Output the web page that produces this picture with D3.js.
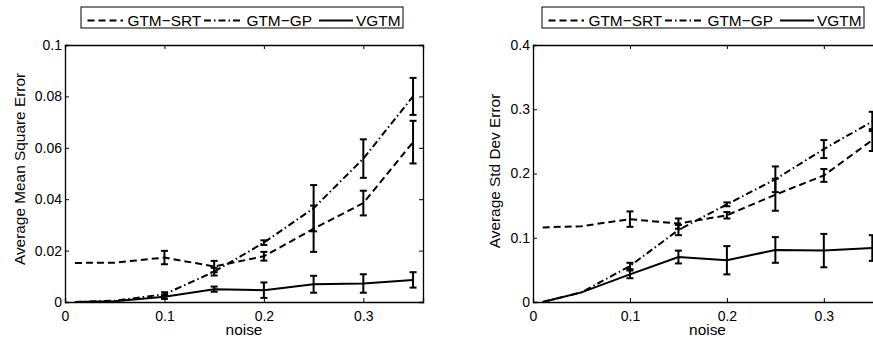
<!DOCTYPE html>
<html>
<head>
<meta charset="utf-8">
<script src="https://cdn.jsdelivr.net/npm/d3@7"></script>
<style>
  body { margin: 0; background: #fff; }
  svg { display: block; font-family: "Liberation Sans", Arial, sans-serif; }
</style>
</head>
<body>
<svg id="chart" width="873" height="340"></svg>
<script>
// noise levels (x axis)
const noise = [0.01, 0.05, 0.1, 0.15, 0.2, 0.25, 0.3, 0.35];
const seriesNames = ["GTM\u2212SRT", "GTM\u2212GP", "VGTM"];

// left panel: average mean square error, with error bar half widths
const mseSrt = [0.0152, 0.0153, 0.0173, 0.0138, 0.0178, 0.0285, 0.0385, 0.0622];
const mseSrtErr = [0, 0, 0.0026, 0.0022, 0.0017, 0.009, 0.0048, 0.0083];
const mseGp = [0, 0.0005, 0.003, 0.0118, 0.0231, 0.0365, 0.0558, 0.0800];
const mseGpErr = [0, 0, 0.0008, 0.0015, 0.0009, 0.009, 0.0075, 0.0072];
const mseVg = [0, 0.0003, 0.002, 0.005, 0.0046, 0.0069, 0.0072, 0.0086];
const mseVgErr = [0, 0, 0.0008, 0.001, 0.003, 0.0033, 0.0036, 0.003];

// right panel: average std dev error
const sdSrt = [0.116, 0.118, 0.129, 0.122, 0.135, 0.167, 0.197, 0.252];
const sdSrtErr = [0, 0, 0.012, 0.008, 0.005, 0.025, 0.01, 0.017];
const sdGp = [0, 0.015, 0.056, 0.112, 0.152, 0.191, 0.238, 0.281];
const sdGpErr = [0, 0, 0.005, 0.008, 0.003, 0.02, 0.014, 0.015];
const sdVg = [0, 0.015, 0.043, 0.07, 0.065, 0.081, 0.08, 0.084];
const sdVgErr = [0, 0, 0.006, 0.01, 0.022, 0.02, 0.026, 0.02];

const xTicks = [0, 0.1, 0.2, 0.3];
const mseTicks = [0, 0.02, 0.04, 0.06, 0.08, 0.1];
const mseTickLabels = ["0", "0.02", "0.04", "0.06", "0.08", "0.1"];
const sdTicks = [0, 0.1, 0.2, 0.3, 0.4];
const sdTickLabels = ["0", "0.1", "0.2", "0.3", "0.4"];

const dashes = ["7,4", "7,3,1.5,3", null];

const svg = d3.select("#chart");

function panel(opts) {
  const x = d3.scaleLinear().domain([0, 0.36]).range([opts.left, opts.left + opts.width]);
  const y = d3.scaleLinear().domain(opts.yDomain).range([302, 45]);
  const g = svg.append("g");

  // axes box with inward ticks on all four sides
  g.append("g").attr("transform", "translate(0,302)")
    .call(d3.axisBottom(x).tickValues(xTicks).tickSize(-4).tickPadding(9)
      .tickFormat(d => d === 0 ? "0" : d3.format(".1f")(d)));
  g.append("g").attr("transform", "translate(0,45)")
    .call(d3.axisTop(x).tickValues(xTicks).tickSize(-4).tickFormat(""));
  g.append("g").attr("transform", `translate(${opts.left},0)`)
    .call(d3.axisLeft(y).tickValues(opts.yTicks).tickSize(-4).tickPadding(3)
      .tickFormat((d, i) => opts.yTickLabels[i]));
  g.append("g").attr("transform", `translate(${opts.left + opts.width},0)`)
    .call(d3.axisRight(y).tickValues(opts.yTicks).tickSize(-4).tickFormat(""));
  g.selectAll(".domain").attr("stroke", "#000").attr("stroke-width", 1.3);
  g.selectAll(".tick line").attr("stroke", "#000");
  g.selectAll(".tick text").attr("font-size", 14).attr("fill", "#000");

  const line = d3.line().x((d, i) => x(noise[i])).y(d => y(d));
  opts.series.forEach((s, k) => {
    g.append("path").datum(s.vals)
      .attr("fill", "none").attr("stroke", "#000").attr("stroke-width", 2)
      .attr("stroke-dasharray", dashes[k])
      .attr("d", line);
  });

  // error bars
  opts.series.forEach(s => {
    const eb = g.append("g").attr("stroke", "#000").attr("stroke-width", 2);
    s.vals.forEach((v, i) => {
      const e = s.err[i];
      if (!e) return;
      const cx = x(noise[i]);
      eb.append("line").attr("x1", cx).attr("x2", cx).attr("y1", y(v - e)).attr("y2", y(v + e));
      [v - e, v + e].forEach(t => {
        eb.append("line").attr("x1", cx - 3.5).attr("x2", cx + 3.5).attr("y1", y(t)).attr("y2", y(t));
      });
    });
  });

  // axis titles
  g.append("text").attr("x", opts.left + opts.width / 2).attr("y", 335)
    .attr("text-anchor", "middle").attr("font-size", 15.4).text("noise");
  g.append("text")
    .attr("transform", `translate(${opts.yLabelX},${opts.yLabelY}) rotate(-90)`)
    .attr("text-anchor", "middle").attr("font-size", 15.4).text(opts.yLabel);

  // legend
  const lg = g.append("g").attr("transform", `translate(${opts.legendX},7)`);
  lg.append("rect").attr("width", 322).attr("height", 21)
    .attr("fill", "#fff").attr("stroke", "#000").attr("stroke-width", 1);
  const entries = [{ x0: 6.5, x1: 42, tx: 46.5 }, { x0: 123, x1: 160.5, tx: 165.5 }, { x0: 238, x1: 272, tx: 275 }];
  entries.forEach((e, k) => {
    lg.append("line").attr("x1", e.x0).attr("x2", e.x1).attr("y1", 13.5).attr("y2", 13.5)
      .attr("stroke", "#000").attr("stroke-width", 2).attr("stroke-dasharray", dashes[k]);
    lg.append("text").attr("x", e.tx).attr("y", 19).attr("font-size", 15.4).text(seriesNames[k]);
  });
}

panel({
  left: 65, width: 358, yDomain: [0, 0.1], yTicks: mseTicks, yTickLabels: mseTickLabels,
  yLabel: "Average Mean Square Error", yLabelX: 25, yLabelY: 169, legendX: 81,
  series: [
    { vals: mseSrt, err: mseSrtErr },
    { vals: mseGp, err: mseGpErr },
    { vals: mseVg, err: mseVgErr }
  ]
});

panel({
  left: 533, width: 349, yDomain: [0, 0.4], yTicks: sdTicks, yTickLabels: sdTickLabels,
  yLabel: "Average Std Dev Error", yLabelX: 500, yLabelY: 171, legendX: 542,
  series: [
    { vals: sdSrt, err: sdSrtErr },
    { vals: sdGp, err: sdGpErr },
    { vals: sdVg, err: sdVgErr }
  ]
});
</script>
</body>
</html>
